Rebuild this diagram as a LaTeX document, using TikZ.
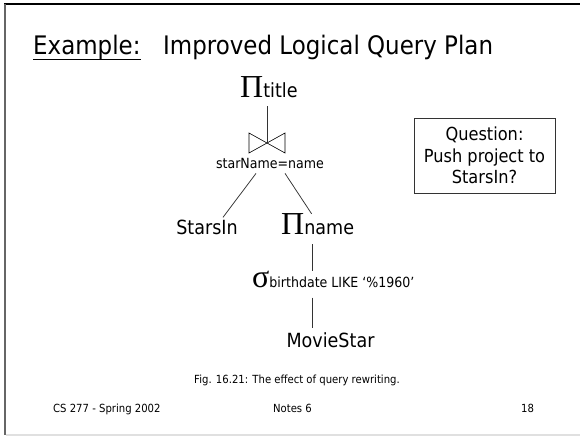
\documentclass[tikz,border=0pt]{standalone}
\usepackage{fontspec}
\setmainfont{DejaVu Sans}[FakeStretch=0.9]
\newfontfamily\symb{Liberation Serif}
\usetikzlibrary{calc}
\newcommand\op[3]{{\symb\fontsize{32}{32}\selectfont #1}{\fontsize{#2}{#2}\selectfont #3}}
\newcommand\fs[1]{\fontsize{#1}{#1}\selectfont}

\begin{document}
\begin{tikzpicture}[x=1pt, y=-1pt,
		edge/.style={draw=black!80, line width=0.75pt},
		txt/.style={inner sep=0pt, anchor=base}]
			%%%%% START %%%%%
			\useasboundingbox (0,0) rectangle (580,436);
			
			% slide frame
			\draw[line width=1.2pt, black] (4,4) -- (580,4);
			\draw[line width=2pt, black!60] (5,4) -- (5,435);
			\draw[line width=1.5pt, black!12] (6,435) -- (580,435);
			
			% heading
			\node[txt, anchor=base west] (ex) at (33,55) {\fs{25.5}Example:};
			\draw[line width=1pt] ($(ex.base west)+(0,4)$) -- ($(ex.base east)+(0,4)$);
			\node[txt, anchor=base west] (heading) at (163,55) {\fs{25.5}Improved Logical Query Plan};
			
			% plan
			\node[txt, anchor=base west] (ptitle) at (240,97) {\op{Π}{19.5}{title}};
			\coordinate (join) at (267,143);
			\draw[line width=0.6pt] (join) -- ++(-18,-10) -- ++(0,20) -- cycle;
			\draw[line width=0.6pt] (join) -- ++(18,-10) -- ++(0,20) -- cycle;
			\node[inner sep=0pt] (jcond) at (270,163) {\fs{14}starName=name};
			
			\node[txt] (starsin) at (207,234) {\fs{19.5}StarsIn};
			\node[txt, anchor=base west] (pname) at (281,234) {\op{Π}{19.5}{name}};
			\node[txt, anchor=base west] (sel) at (252,287) {\op{σ}{14}{birthdate LIKE ‘\%1960’}};
			\node[txt] (movie) at (330.5,347) {\fs{19.5}MovieStar};
			\coordinate (axis) at (312,0);
			
			\draw[edge] ($(ptitle.south -| join)+(0,9)$) -- (join);
			\draw[edge] ($(jcond.south)+(-14,5)$) -- ($(starsin.north)+(16,-2)$);
			\draw[edge] ($(jcond.south)+(15,5)$) -- ($(pname.north)+(-6,1)$);
			\draw[edge] ($(pname.south -| axis)+(0,10)$) -- ($(sel.north -| axis)+(0,1)$);
			\draw[edge] ($(sel.south -| axis)+(0,10)$) -- ($(movie.north -| axis)+(0,-4)$);
			
			% question box
			\node[draw=black!80, line width=0.8pt, minimum width=141pt, minimum height=75pt,
				inner sep=0pt, align=center, font=\fontsize{18}{21.5}\selectfont] (quest) at (484.5,155.5)
				{Question:\\Push project to\\StarsIn?};
			
			% caption and footer
			\node[inner sep=0pt] (caption) at (297,380) {\fs{11.2}Fig. 16.21: The effect of query rewriting.};
			\node[inner sep=0pt, anchor=west] (course) at (53,409) {\fs{11.2}CS 277 - Spring 2002};
			\node[inner sep=0pt] (notes) at (292.5,408) {\fs{11.2}Notes 6};
			\node[inner sep=0pt] (page) at (527.5,408) {\fs{11.2}18};
			%%%%% END %%%%%
\end{tikzpicture}
\end{document}
